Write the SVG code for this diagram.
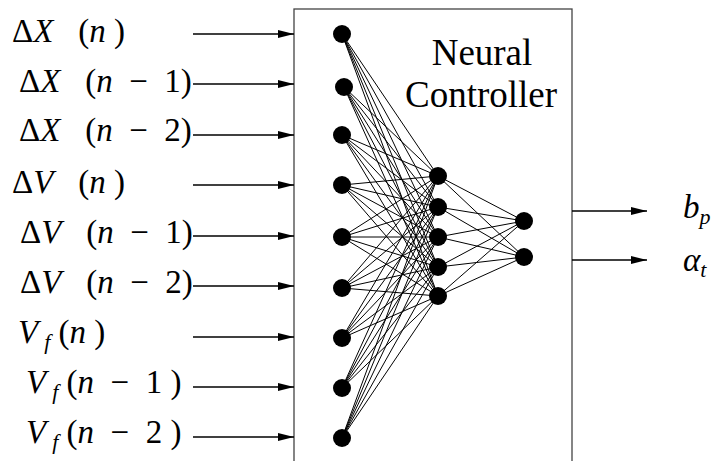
<svg xmlns="http://www.w3.org/2000/svg" width="722" height="461" viewBox="0 0 722 461">
<style>
.arr{stroke:#000;stroke-width:1.3;fill:none;marker-end:url(#ah)}
.e{stroke:#000;stroke-width:1}
.n{fill:#000}
</style>
<defs>
<marker id="ah" markerUnits="userSpaceOnUse" markerWidth="17" markerHeight="9" refX="16" refY="4" orient="auto">
<path d="M0,0 L16,4 L0,8 z" fill="#000"/>
</marker>
</defs>
<rect width="722" height="461" fill="#fff"/>
<rect id="controller" x="294" y="9" width="278" height="470" fill="#fff" stroke="#444" stroke-width="1.3"/>
<g id="connectors">
<line class="arr" x1="193" y1="34" x2="294" y2="34"/>
<line class="arr" x1="193" y1="84" x2="294" y2="84"/>
<line class="arr" x1="193" y1="135" x2="294" y2="135"/>
<line class="arr" x1="193" y1="185" x2="294" y2="185"/>
<line class="arr" x1="193" y1="236" x2="294" y2="236"/>
<line class="arr" x1="193" y1="286" x2="294" y2="286"/>
<line class="arr" x1="193" y1="337" x2="294" y2="337"/>
<line class="arr" x1="193" y1="387" x2="294" y2="387"/>
<line class="arr" x1="193" y1="437" x2="294" y2="437"/>
<line class="arr" x1="572" y1="211" x2="647" y2="211"/>
<line class="arr" x1="572" y1="260" x2="647" y2="260"/>
<g class="e">
<path d="M342,34 L438,176 M342,34 L438,207 M342,34 L438,237 M342,34 L438,267 M342,34 L438,296"/>
<path d="M344,87 L438,176 M344,87 L438,207 M344,87 L438,237 M344,87 L438,267 M344,87 L438,296"/>
<path d="M342,135 L438,176 M342,135 L438,207 M342,135 L438,237 M342,135 L438,267 M342,135 L438,296"/>
<path d="M342,185 L438,176 M342,185 L438,207 M342,185 L438,237 M342,185 L438,267 M342,185 L438,296"/>
<path d="M342,237 L438,176 M342,237 L438,207 M342,237 L438,237 M342,237 L438,267 M342,237 L438,296"/>
<path d="M342,288 L438,176 M342,288 L438,207 M342,288 L438,237 M342,288 L438,267 M342,288 L438,296"/>
<path d="M342,338 L438,176 M342,338 L438,207 M342,338 L438,237 M342,338 L438,267 M342,338 L438,296"/>
<path d="M342,388 L438,176 M342,388 L438,207 M342,388 L438,237 M342,388 L438,267 M342,388 L438,296"/>
<path d="M342,438 L438,176 M342,438 L438,207 M342,438 L438,237 M342,438 L438,267 M342,438 L438,296"/>
<path d="M438,176 L524,221 M438,207 L524,221 M438,237 L524,221 M438,267 L524,221 M438,296 L524,221"/>
<path d="M438,176 L524,257 M438,207 L524,257 M438,237 L524,257 M438,267 L524,257 M438,296 L524,257"/>
</g>
</g>
<g id="in1"><circle class="n" cx="342" cy="34" r="9"/></g>
<g id="in2"><circle class="n" cx="344" cy="87" r="9"/></g>
<g id="in3"><circle class="n" cx="342" cy="135" r="9"/></g>
<g id="in4"><circle class="n" cx="342" cy="185" r="9"/></g>
<g id="in5"><circle class="n" cx="342" cy="237" r="9"/></g>
<g id="in6"><circle class="n" cx="342" cy="288" r="9"/></g>
<g id="in7"><circle class="n" cx="342" cy="338" r="9"/></g>
<g id="in8"><circle class="n" cx="342" cy="388" r="9"/></g>
<g id="in9"><circle class="n" cx="342" cy="438" r="9"/></g>
<g id="h1"><circle class="n" cx="438" cy="176" r="9"/></g>
<g id="h2"><circle class="n" cx="438" cy="207" r="9"/></g>
<g id="h3"><circle class="n" cx="438" cy="237" r="9"/></g>
<g id="h4"><circle class="n" cx="438" cy="267" r="9"/></g>
<g id="h5"><circle class="n" cx="438" cy="296" r="9"/></g>
<g id="o1"><circle class="n" cx="524" cy="221" r="9"/></g>
<g id="o2"><circle class="n" cx="524" cy="257" r="9"/></g>
<g id="title">
<text x="482" y="65" text-anchor="middle" font-family="Liberation Serif" font-size="37" style="font-family:'Liberation Serif',serif">Neural</text>
<text x="481" y="107" text-anchor="middle" font-family="Liberation Serif" font-size="37" style="font-family:'Liberation Serif',serif">Controller</text>
</g>
<g id="labels">
<text x="12" y="42" font-family="Liberation Serif" font-size="33" style="font-family:'Liberation Serif',serif">Δ<tspan font-style="italic">X</tspan>&#160;&#160;&#160;(<tspan font-style="italic">n</tspan>&#160;)</text>
<text x="19" y="92" font-family="Liberation Serif" font-size="33" style="font-family:'Liberation Serif',serif">Δ<tspan font-style="italic">X</tspan>&#160;&#160;&#160;(<tspan font-style="italic">n</tspan>&#160;&#160;−&#160;&#160;1)</text>
<text x="19" y="141" font-family="Liberation Serif" font-size="33" style="font-family:'Liberation Serif',serif">Δ<tspan font-style="italic">X</tspan>&#160;&#160;&#160;(<tspan font-style="italic">n</tspan>&#160;&#160;−&#160;&#160;2)</text>
<text x="12" y="193" font-family="Liberation Serif" font-size="33" style="font-family:'Liberation Serif',serif">Δ<tspan font-style="italic">V</tspan>&#160;&#160;&#160;(<tspan font-style="italic">n</tspan>&#160;)</text>
<text x="20" y="243" font-family="Liberation Serif" font-size="33" style="font-family:'Liberation Serif',serif">Δ<tspan font-style="italic">V</tspan>&#160;&#160;&#160;(<tspan font-style="italic">n</tspan>&#160;&#160;−&#160;&#160;1)</text>
<text x="20" y="293" font-family="Liberation Serif" font-size="33" style="font-family:'Liberation Serif',serif">Δ<tspan font-style="italic">V</tspan>&#160;&#160;&#160;(<tspan font-style="italic">n</tspan>&#160;&#160;−&#160;&#160;2)</text>
<text x="18" y="343" font-family="Liberation Serif" font-size="33" style="font-family:'Liberation Serif',serif"><tspan font-style="italic">V</tspan><tspan font-style="italic" font-size="22" dx="6" dy="6">f</tspan><tspan dy="-6">&#160;(</tspan><tspan font-style="italic">n</tspan>&#160;)</text>
<text x="26" y="393" font-family="Liberation Serif" font-size="33" style="font-family:'Liberation Serif',serif"><tspan font-style="italic">V</tspan><tspan font-style="italic" font-size="22" dx="6" dy="6">f</tspan><tspan dy="-6">&#160;(</tspan><tspan font-style="italic">n</tspan>&#160;&#160;−&#160;&#160;1&#160;)</text>
<text x="26" y="443" font-family="Liberation Serif" font-size="33" style="font-family:'Liberation Serif',serif"><tspan font-style="italic">V</tspan><tspan font-style="italic" font-size="22" dx="6" dy="6">f</tspan><tspan dy="-6">&#160;(</tspan><tspan font-style="italic">n</tspan>&#160;&#160;−&#160;&#160;2&#160;)</text>
<text x="683" y="218" font-family="Liberation Serif" font-size="33" style="font-family:'Liberation Serif',serif"><tspan font-style="italic">b</tspan><tspan font-style="italic" font-size="22" dy="6">p</tspan></text>
<text x="683" y="271" font-family="Liberation Serif" font-size="33" style="font-family:'Liberation Serif',serif"><tspan font-style="italic">α</tspan><tspan font-style="italic" font-size="22" dy="6">t</tspan></text>
</g>
</svg>
